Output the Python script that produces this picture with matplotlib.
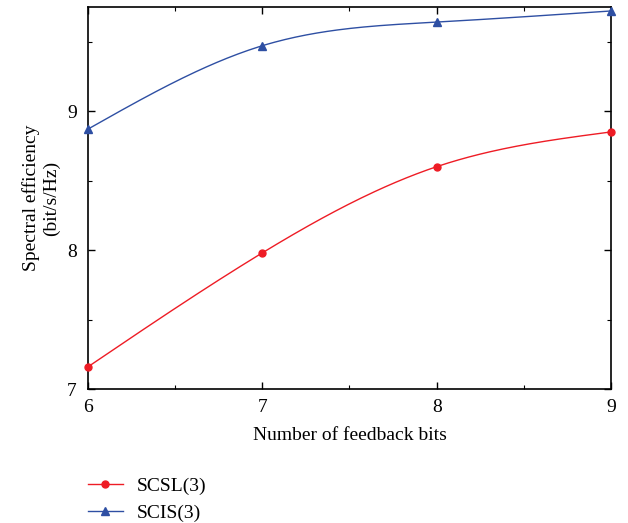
import numpy as np
import matplotlib
matplotlib.use("Agg")
from matplotlib import pyplot as plt
from matplotlib.ticker import MultipleLocator

bits = [6, 7, 8, 9]
scsl = [7.16, 7.98, 8.60, 8.85]
scis = [8.87, 9.47, 9.64, 9.72]


def smooth(x, y, n=200):
    # natural cubic spline, only used to draw the curve between the points
    x = np.asarray(x, float)
    y = np.asarray(y, float)
    k = len(x)
    h = np.diff(x)
    A = np.zeros((k, k))
    r = np.zeros(k)
    A[0, 0] = A[-1, -1] = 1
    for i in range(1, k - 1):
        A[i, i - 1] = h[i - 1]
        A[i, i] = 2 * (h[i - 1] + h[i])
        A[i, i + 1] = h[i]
        r[i] = 3 * ((y[i + 1] - y[i]) / h[i] - (y[i] - y[i - 1]) / h[i - 1])
    c = np.linalg.solve(A, r)
    xs = np.linspace(x[0], x[-1], n)
    idx = np.clip(np.searchsorted(x, xs) - 1, 0, k - 2)
    dx = xs - x[idx]
    hi = h[idx]
    b = (y[idx + 1] - y[idx]) / hi - hi * (2 * c[idx] + c[idx + 1]) / 3
    d = (c[idx + 1] - c[idx]) / (3 * hi)
    ys = y[idx] + b * dx + c[idx] * dx ** 2 + d * dx ** 3
    return xs, ys


plt.rcParams['font.family'] = ['Liberation Serif', 'DejaVu Serif']
plt.rcParams['font.size'] = 14

fig = plt.figure(figsize=(6.28, 5.23), dpi=100)
ax = fig.add_axes([0.140, 0.256, 0.833, 0.731])

red = '#ee1c25'
blue = '#2e4fa3'

xs, ys = smooth(bits, scsl)
ax.plot(xs, ys, color=red, lw=1)
ax.plot(bits, scsl, 'o', color=red, ms=5, clip_on=False, zorder=3)
xs, ys = smooth(bits, scis)
ax.plot(xs, ys, color=blue, lw=1)
ax.plot(bits, scis, '^', color=blue, ms=5.5, clip_on=False, zorder=3)

h1, = ax.plot([], [], '-o', color=red, lw=1, ms=5)
h2, = ax.plot([], [], '-^', color=blue, lw=1, ms=5.5)

ax.set_xlim(6, 9)
ax.set_ylim(7, 9.75)
ax.xaxis.set_major_locator(MultipleLocator(1))
ax.xaxis.set_minor_locator(MultipleLocator(0.5))
ax.yaxis.set_major_locator(MultipleLocator(1))
ax.yaxis.set_minor_locator(MultipleLocator(0.5))
ax.tick_params(which='both', direction='in', top=True, right=True)
ax.tick_params(which='major', length=5, width=1)
ax.tick_params(which='minor', length=3, width=0.8)
ax.tick_params(axis='x', pad=7)
ax.tick_params(axis='y', pad=8)
for s in ax.spines.values():
    s.set_linewidth(1.2)

ax.set_xlabel('Number of feedback bits', labelpad=8)
ax.set_ylabel('Spectral efficiency\n(bit/s/Hz)', labelpad=5)

fig.legend([h1, h2], ['SCSL(3)', 'SCIS(3)'], loc='upper left',
           bbox_to_anchor=(0.140, 0.088), frameon=False, borderpad=0,
           borderaxespad=0, handlelength=1.8, handletextpad=0.7,
           labelspacing=0.5, fontsize=14)

fig.savefig('out.png', dpi=100)
